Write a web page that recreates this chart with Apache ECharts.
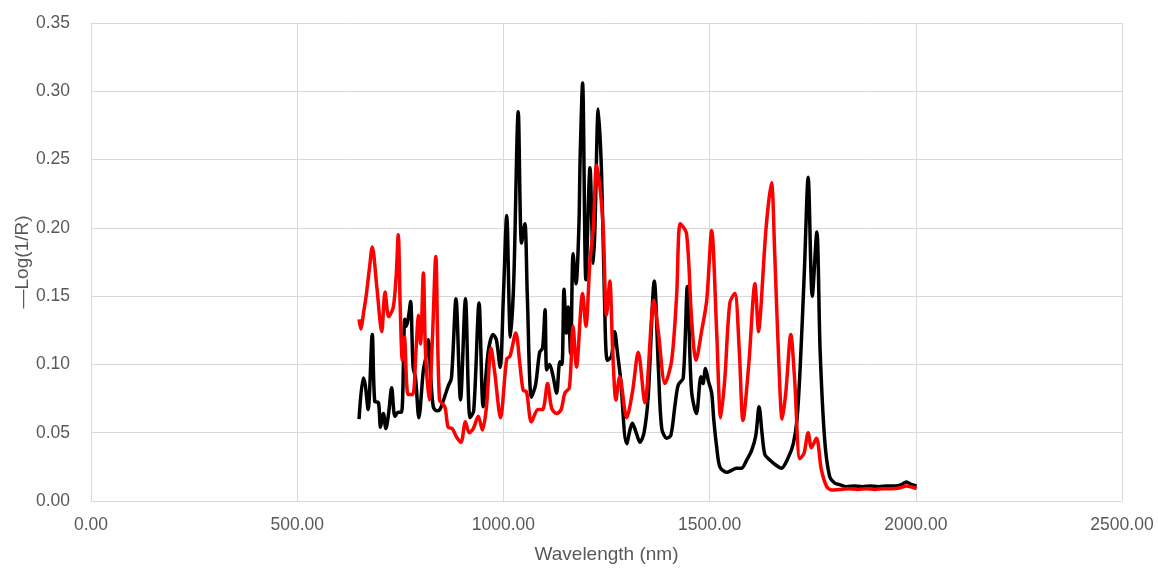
<!DOCTYPE html>
<html>
<head>
<meta charset="utf-8">
<script src="https://cdn.jsdelivr.net/npm/echarts@6/dist/echarts.min.js"></script>
<style>
html,body{margin:0;padding:0;background:#fff;}
#chart{width:1158px;height:568px;}
</style>
</head>
<body>
<div id="chart"></div>
<script>
var xTicks = [0, 500, 1000, 1500, 2000, 2500];
var yTicks = [0, 0.05, 0.10, 0.15, 0.20, 0.25, 0.30, 0.35];

var blackNm = [650,660,665,672,682,688,697,702,709,715,722,729,737,745,753,761,765,770,775,781,787,795,806,812,818,824,830,838,846,856,866,874,885,896,908,919,928,941,951,963,975,983,992,1000,1008,1017,1025,1036,1044,1052,1058,1068,1078,1088,1095,1101,1105,1112,1120,1129,1137,1142,1147,1153,1157,1163,1169,1176,1183,1186,1192,1200,1210,1218,1222,1230,1238,1245,1252,1262,1270,1276,1284,1299,1313,1322,1331,1341,1351,1366,1376,1384,1396,1406,1416,1424,1436,1446,1456,1468,1479,1484,1490,1497,1505,1510,1517,1525,1541,1557,1565,1577,1590,1602,1612,1620,1627,1634,1646,1662,1674,1691,1703,1712,1720,1730,1739,1749,1760,1768,1779,1791,1804,1815,1832,1850,1870,1890,1910,1930,1950,1965,1977,1990,2002];
var blackVal = [0.060,0.090,0.085,0.067,0.122,0.073,0.072,0.054,0.064,0.053,0.065,0.083,0.062,0.065,0.065,0.133,0.128,0.135,0.146,0.098,0.090,0.061,0.096,0.105,0.118,0.090,0.069,0.066,0.067,0.075,0.084,0.090,0.148,0.074,0.148,0.061,0.066,0.145,0.069,0.109,0.122,0.118,0.098,0.150,0.209,0.120,0.160,0.285,0.189,0.203,0.150,0.076,0.085,0.109,0.112,0.140,0.096,0.100,0.092,0.079,0.102,0.100,0.155,0.123,0.142,0.108,0.181,0.159,0.200,0.250,0.306,0.162,0.244,0.174,0.200,0.287,0.240,0.150,0.103,0.106,0.124,0.110,0.090,0.042,0.057,0.050,0.043,0.050,0.076,0.161,0.096,0.053,0.046,0.048,0.070,0.085,0.090,0.157,0.081,0.064,0.091,0.086,0.097,0.088,0.079,0.060,0.040,0.025,0.021,0.023,0.024,0.024,0.030,0.037,0.048,0.069,0.050,0.034,0.030,0.026,0.024,0.032,0.042,0.060,0.100,0.170,0.237,0.150,0.197,0.110,0.045,0.018,0.013,0.012,0.0105,0.011,0.0105,0.011,0.0105,0.011,0.011,0.012,0.014,0.012,0.011];

var redNm = [650,654,662,668,675,682,693,705,713,722,733,740,745,750,755,760,769,780,788,794,799,806,811,820,828,836,845,858,866,876,886,897,908,917,927,939,949,959,970,979,993,1008,1016,1030,1040,1048,1056,1068,1084,1095,1107,1117,1129,1140,1149,1160,1169,1177,1192,1200,1210,1218,1226,1234,1242,1250,1258,1265,1273,1282,1299,1313,1327,1343,1365,1376,1392,1408,1420,1429,1444,1456,1467,1481,1493,1505,1517,1527,1537,1549,1561,1572,1581,1595,1610,1619,1624,1637,1650,1658,1668,1676,1685,1697,1706,1719,1729,1739,1747,1759,1771,1784,1796,1815,1835,1860,1880,1900,1920,1940,1960,1977,2002];
var redVal = [0.133,0.126,0.140,0.152,0.170,0.186,0.157,0.124,0.153,0.135,0.142,0.165,0.195,0.140,0.103,0.120,0.078,0.078,0.110,0.136,0.115,0.167,0.110,0.074,0.120,0.179,0.074,0.069,0.054,0.053,0.047,0.043,0.058,0.050,0.053,0.062,0.052,0.069,0.112,0.094,0.061,0.104,0.106,0.123,0.100,0.081,0.080,0.058,0.067,0.067,0.086,0.068,0.064,0.067,0.079,0.083,0.128,0.098,0.152,0.128,0.176,0.200,0.246,0.230,0.200,0.136,0.161,0.110,0.074,0.091,0.061,0.080,0.109,0.072,0.147,0.123,0.086,0.103,0.150,0.203,0.196,0.135,0.103,0.125,0.147,0.198,0.125,0.061,0.090,0.145,0.152,0.110,0.059,0.100,0.159,0.124,0.140,0.200,0.233,0.180,0.100,0.060,0.080,0.122,0.090,0.031,0.035,0.050,0.039,0.046,0.023,0.0105,0.008,0.0085,0.009,0.0085,0.009,0.0085,0.009,0.009,0.0095,0.011,0.009];

function pairs(xs, ys){ return xs.map(function(x,i){ return [x, ys[i]]; }); }

var chart = echarts.init(document.getElementById('chart'), null, {renderer:'canvas'});
var FONT = 'Liberation Sans, Arial, sans-serif';
chart.setOption({
  animation:false,
  backgroundColor:'#ffffff',
  grid:{left:91, right:36, top:23, bottom:67, containLabel:false, outerBoundsMode:'none'},
  xAxis:{
    type:'value', min:xTicks[0], max:xTicks[xTicks.length-1], interval:500,
    name:'Wavelength (nm)', nameLocation:'middle', nameGap:44, nameMoveOverlap:false,
    nameTextStyle:{color:'#595959', fontSize:19, fontFamily:FONT},
    axisLine:{show:true, lineStyle:{color:'#d9d9d9', width:1}},
    axisTick:{show:false},
    axisLabel:{margin:15, color:'#595959', fontSize:17.5, fontFamily:FONT, formatter:function(v){return v.toFixed(2);}},
    splitLine:{show:true, lineStyle:{color:'#d9d9d9', width:1}}
  },
  yAxis:{
    type:'value', min:yTicks[0], max:yTicks[yTicks.length-1], interval:0.05,
    name:'\u2014Log(1/R)', nameLocation:'middle', nameGap:59, nameMoveOverlap:false,
    nameTextStyle:{color:'#595959', fontSize:19, fontFamily:FONT},
    axisLine:{show:true, lineStyle:{color:'#d9d9d9', width:1}},
    axisTick:{show:false},
    axisLabel:{margin:21, color:'#595959', fontSize:17.5, fontFamily:FONT, formatter:function(v){return v.toFixed(2);}},
    splitLine:{show:true, lineStyle:{color:'#d9d9d9', width:1}}
  },
  series:[
    {type:'line', name:'black', data:pairs(blackNm, blackVal), showSymbol:false, smooth:0.3,
     lineStyle:{color:'#000000', width:3.5}, itemStyle:{color:'#000000'}},
    {type:'line', name:'red', data:pairs(redNm, redVal), showSymbol:false, smooth:0.3,
     lineStyle:{color:'#ff0000', width:3.5}, itemStyle:{color:'#ff0000'}}
  ]
});
</script>
</body>
</html>
